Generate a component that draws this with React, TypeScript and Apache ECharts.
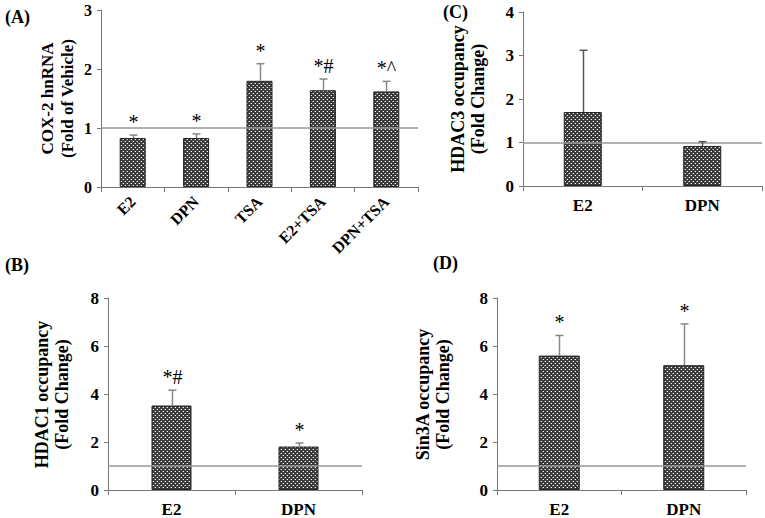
import React, { useEffect, useRef } from "react";
import * as echarts from "echarts";

// Panel A
const catsA = ["E2", "DPN", "TSA", "E2+TSA", "DPN+TSA"];
const valsA = [0.83, 0.83, 1.8, 1.64, 1.62];
const errA = [0.05, 0.07, 0.29, 0.19, 0.17];
const annA = ["*", "*", "*", "*#", "*^"];
// Panel C
const catsC = ["E2", "DPN"];
const valsC = [1.7, 0.92];
const errC = [1.42, 0.1];
const annC = ["", ""];
// Panel B
const catsB = ["E2", "DPN"];
const valsB = [3.52, 1.81];
const errB = [0.64, 0.15];
const annB = ["*#", "*"];
// Panel D
const catsD = ["E2", "DPN"];
const valsD = [5.6, 5.2];
const errD = [0.84, 1.72];
const annD = ["*", "*"];

const FONT = '"Liberation Serif", "Times New Roman", serif';

function makePattern() {
  const c = document.createElement("canvas");
  c.width = 4;
  c.height = 4;
  const ctx = c.getContext("2d")!;
  ctx.fillStyle = "#3a3a3a";
  ctx.fillRect(0, 0, 4, 4);
  ctx.fillStyle = "#eeeeee";
  ctx.fillRect(1, 1, 1, 1);
  ctx.fillRect(3, 3, 1, 1);
  ctx.fillStyle = "#7a7a7a";
  ctx.fillRect(0, 1, 1, 1);
  ctx.fillRect(2, 3, 1, 1);
  return c;
}

export default function App() {
  const ref = useRef<HTMLDivElement>(null);
  useEffect(() => {
    const chart = echarts.init(ref.current!, null, { renderer: "svg" });
    const pat = makePattern();
    const panels = [
      { cats: catsA, vals: valsA, err: errA, ann: annA, grid: { left: 101, right: 347, top: 10, bottom: 331 }, max: 3, interval: 1, bw: 26, rot: 45, errColor: "#888", ytitle: "COX-2 hnRNA\n(Fold of Vehicle)", tx: 57, tfs: 17, fs: 16, label: "(A)", lx: 5, ly: 8 },
      { cats: catsC, vals: valsC, err: errC, ann: annC, grid: { left: 523, right: 3, top: 12, bottom: 332 }, max: 4, interval: 1, bw: 38, rot: 0, errColor: "#555", ytitle: "HDAC3 occupancy\n(Fold Change)", tx: 468, tfs: 18, fs: 17, label: "(C)", lx: 443, ly: 3 },
      { cats: catsB, vals: valsB, err: errB, ann: annB, grid: { left: 108, right: 403, top: 298, bottom: 27 }, max: 8, interval: 2, bw: 40, rot: 0, errColor: "#888", ytitle: "HDAC1 occupancy\n(Fold Change)", tx: 52, tfs: 18, fs: 17, label: "(B)", lx: 5, ly: 256 },
      { cats: catsD, vals: valsD, err: errD, ann: annD, grid: { left: 497, right: 19, top: 298, bottom: 27 }, max: 8, interval: 2, bw: 41, rot: 0, errColor: "#888", ytitle: "Sin3A occupancy\n(Fold Change)", tx: 433, tfs: 18, fs: 17, label: "(D)", lx: 433, ly: 254 },
    ];
    const grids: any[] = [];
    const xAxes: any[] = [];
    const yAxes: any[] = [];
    const series: any[] = [];
    const graphics: any[] = [];
    panels.forEach((p, i) => {
      grids.push({ ...p.grid, containLabel: false });
      xAxes.push({
        type: "category",
        gridIndex: i,
        data: p.cats,
        axisLine: { lineStyle: { color: "#777", width: 1 } },
        axisTick: { show: true, length: 5, lineStyle: { color: "#777" } },
        axisLabel: {
          rotate: p.rot,
          margin: p.rot ? 12 : 11,
          color: "#000",
          fontFamily: FONT,
          fontWeight: "bold",
          fontSize: p.fs,
        },
      });
      yAxes.push({
        type: "value",
        gridIndex: i,
        min: 0,
        max: p.max,
        interval: p.interval,
        splitLine: { show: false },
        axisLine: { show: true, lineStyle: { color: "#777", width: 1 } },
        axisTick: { show: true, length: 4, lineStyle: { color: "#777" } },
        axisLabel: { color: "#000", fontFamily: FONT, fontWeight: "bold", fontSize: p.fs, margin: 9 },
      });
      series.push({
        type: "bar",
        xAxisIndex: i,
        yAxisIndex: i,
        data: p.vals,
        barWidth: p.bw,
        itemStyle: {
          color: { image: pat, repeat: "repeat" },
          borderColor: "#222",
          borderWidth: 1,
        },
        markLine: {
          silent: true,
          symbol: "none",
          label: { show: false },
          lineStyle: { color: "#999", type: "solid", width: 1.5 },
          data: [{ yAxis: 1 }],
        },
        z: 2,
      });
      const errData = p.vals.map((v, k) => [k, v, v + p.err[k], k]);
      series.push({
        type: "custom",
        xAxisIndex: i,
        yAxisIndex: i,
        data: errData,
        z: 5,
        renderItem: (params: any, api: any) => {
          const k = api.value(3);
          const lo = api.coord([api.value(0), api.value(1)]);
          const hi = api.coord([api.value(0), api.value(2)]);
          const x = Math.round(lo[0]) + 0.5;
          const children: any[] = [
            { type: "line", shape: { x1: x, y1: lo[1], x2: x, y2: hi[1] }, style: { stroke: p.errColor, lineWidth: 1.5 } },
            { type: "line", shape: { x1: x - 4, y1: hi[1], x2: x + 4, y2: hi[1] }, style: { stroke: p.errColor, lineWidth: 1.5 } },
          ];
          const a = p.ann[k];
          if (a) {
            children.push({
              type: "text",
              x: x,
              y: hi[1] - 3,
              style: { text: a, align: "center", verticalAlign: "bottom", font: `20px ${FONT}`, fill: "#000" },
            });
          }
          return { type: "group", children };
        },
      });
      graphics.push({
        type: "text",
        x: p.tx,
        y: (p.grid.top + (518 - p.grid.bottom)) / 2,
        rotation: Math.PI / 2,
        style: {
          text: p.ytitle,
          align: "center",
          verticalAlign: "middle",
          font: `bold ${p.tfs}px ${FONT}`,
          lineHeight: 20,
          fill: "#000",
        },
      });
      graphics.push({
        type: "text",
        x: p.lx,
        y: p.ly,
        style: { text: p.label, font: `bold 18px ${FONT}`, fill: "#000" },
      });
    });
    chart.setOption({
      animation: false,
      backgroundColor: "#fff",
      grid: grids,
      xAxis: xAxes,
      yAxis: yAxes,
      series,
      graphic: graphics,
    });
    return () => chart.dispose();
  }, []);
  return <div ref={ref} style={{ position: "absolute", left: 0, top: 0, width: 765, height: 518 }} />;
}
